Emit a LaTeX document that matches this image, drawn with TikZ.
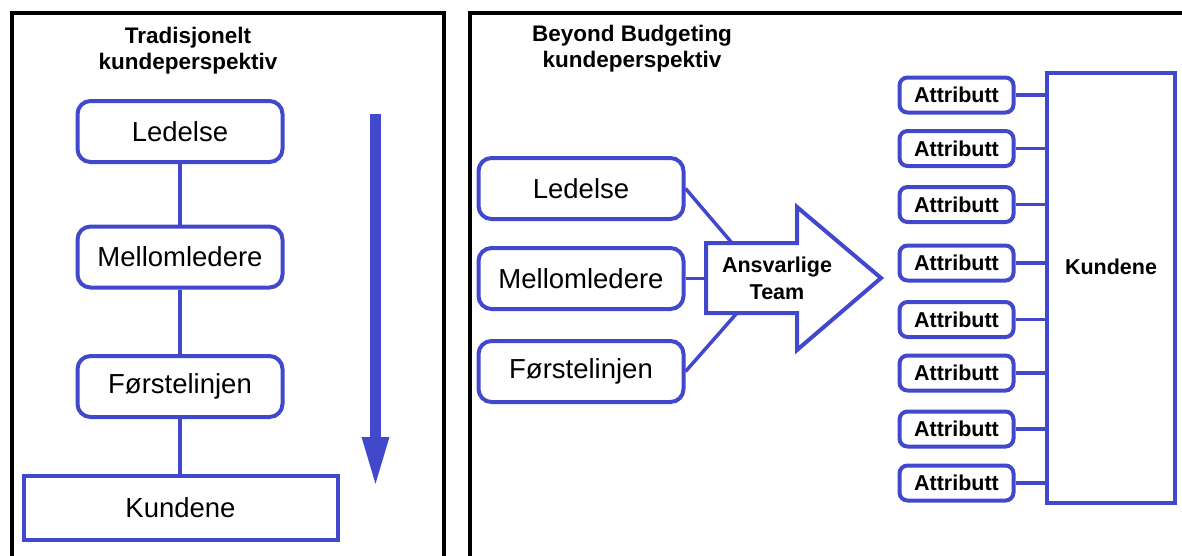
\documentclass[tikz,border=0pt]{standalone}
\usepackage{fontspec}
\setmainfont{Liberation Sans}
\usetikzlibrary{arrows.meta}
\definecolor{bblue}{RGB}{66,72,204}
\tikzset{
  frame/.style={draw=black,line width=4pt},
  rbox/.style={draw=bblue,line width=4pt,rounded corners=13pt,minimum width=205pt,minimum height=61pt,inner sep=0pt,font=\fontsize{27.5}{30}\selectfont},
  sbox/.style={draw=bblue,line width=4pt,inner sep=0pt},
  abox/.style={draw=bblue,line width=4pt,rounded corners=8pt,minimum width=114pt,minimum height=35pt,inner sep=0pt,font=\bfseries\fontsize{21.5}{22}\selectfont},
  link/.style={draw=bblue,line width=3.5pt},
  title/.style={align=center,font=\bfseries\fontsize{22.5}{26}\selectfont}
}
\begin{document}
\begin{tikzpicture}[x=1pt,y=-1pt]
\useasboundingbox (0,0) rectangle (1182,555);
% frames
\draw[frame] (12,600) -- (12,13) -- (444,13) -- (444,600);
\draw[frame] (470,600) -- (470,13) -- (1250,13);
% left panel
\node[title] (t1) at (188,51) {Tradisjonelt\\kundeperspektiv};
\node[rbox] (l1) at (180,131.5) {Ledelse};
\node[rbox] (l2) at (180,257) {Mellomledere};
\node[rbox] (l3) at (180,386.5) {Førstelinjen};
\node[sbox,minimum width=314pt,minimum height=64pt,font=\fontsize{27.5}{30}\selectfont] (l4) at (180.5,507.5) {Kundene};
\draw[link] (l1) -- (l2);
\draw[link] (l2) -- (l3);
\draw[link] (l3) -- (l4.north -| l3.south);
\coordinate (as) at (375.5,114);
\coordinate (ae) at (375.5,489);
\draw[draw=bblue,line width=11pt,-{Triangle[width=24pt,length=52pt]}] (as) -- (ae);
% right panel
\node[title] (t2) at (632,49) {Beyond Budgeting\\kundeperspektiv};
\node[rbox] (r1) at (581,188.5) {Ledelse};
\node[rbox] (r2) at (581,278.5) {Mellomledere};
\node[rbox] (r3) at (581,371.5) {Førstelinjen};
\draw[draw=bblue,line width=4pt,fill=white,line join=miter]
  (706,243) -- (797,243) -- (797,207) -- (881,278) -- (797,350) -- (797,313) -- (706,313) -- cycle;
\node[align=center,font=\bfseries\fontsize{21.5}{27}\selectfont,inner sep=0pt] (team) at (777,278) {Ansvarlige\\Team};
\coordinate (tt) at (732,243);
\coordinate (tm) at (706,278.5);
\coordinate (tb) at (737,313);
\draw[link] (r1.east) -- (tt);
\draw[link] (r2.east) -- (tm);
\draw[link] (r3.east) -- (tb);
\node[sbox,minimum width=128pt,minimum height=430pt,label={[yshift=21pt,font=\bfseries\fontsize{21.5}{24}\selectfont]center:Kundene}] (kd) at (1111,288) {};
\foreach \i/\y in {1/95,2/148.5,3/204.5,4/263,5/319.5,6/373,7/429,8/483}{
  \node[abox] (a\i) at (956.5,\y) {Attributt};
  \draw[link] (a\i.east) -- (a\i.east -| kd.west);
}
\end{tikzpicture}
\end{document}
